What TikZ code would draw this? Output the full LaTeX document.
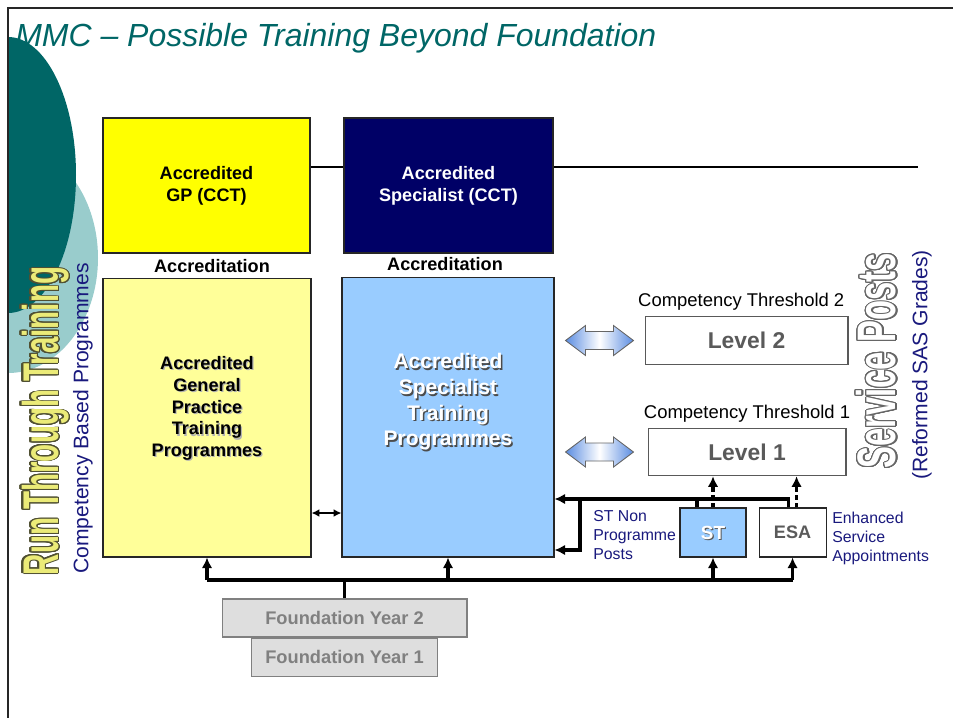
\documentclass[tikz,border=0pt]{standalone}
\usepackage{fontspec}
\setmainfont{Liberation Sans}
\usepackage{graphicx}
\usepackage{contour}
\usetikzlibrary{arrows.meta,positioning,calc}

\definecolor{mmcteal}{RGB}{0,102,102}
\definecolor{paleteal}{RGB}{153,204,204}
\definecolor{gpyellow}{RGB}{255,255,0}
\definecolor{gplight}{RGB}{255,255,153}
\definecolor{stnavy}{RGB}{0,0,102}
\definecolor{stlight}{RGB}{153,204,255}
\definecolor{labelblue}{RGB}{25,25,125}
\definecolor{fatblue}{RGB}{90,140,225}
\definecolor{levelgrey}{RGB}{90,90,90}
\definecolor{fygrey}{RGB}{222,222,222}
\definecolor{fytext}{RGB}{128,128,128}
\definecolor{rtfill}{RGB}{235,235,120}
\definecolor{rtedge}{RGB}{80,80,50}

\contourlength{0.5pt}
\contournumber{24}

\tikzset{
  box/.style={draw=black!85, line width=0.6pt, align=center, inner sep=2pt,
              font=\bfseries\fontsize{10.3}{12.4}\selectfont},
  cctgp/.style={box, fill=gpyellow, minimum width=4.14cm, minimum height=2.7cm},
  cctsp/.style={box, fill=stnavy, text=white, minimum width=4.18cm, minimum height=2.7cm},
  progbox/.style={box, minimum height=5.6cm},
  progtext/.style={box, draw=none, font=\bfseries\fontsize{12}{14.6}\selectfont},
  level/.style={draw=black!65, line width=0.6pt, fill=white, minimum height=0.95cm,
                font=\bfseries\fontsize{13}{15}\selectfont, text=levelgrey},
  post/.style={box, minimum width=1.32cm, minimum height=0.98cm},
  posttext/.style={font=\bfseries\fontsize{10.8}{12}\selectfont, inner sep=0pt},
  fyear/.style={draw=black!50, line width=0.6pt, fill=fygrey, text=fytext,
                minimum height=0.76cm, font=\bfseries\fontsize{10.4}{12}\selectfont},
  accr/.style={font=\bfseries\fontsize{10.3}{12}\selectfont, inner sep=0pt},
  thresh/.style={font=\fontsize{10.5}{12}\selectfont, inner sep=1pt},
  note/.style={text=labelblue, align=left, anchor=north west, inner sep=0pt,
               font=\fontsize{9}{10.8}\selectfont},
  side/.style={rotate=90, text=labelblue, inner sep=0pt, font=\fontsize{12}{14}\selectfont},
  line/.style={line width=1.8pt},
  arrow/.style={line, -{Latex[length=6pt,width=6pt]}},
  dotarrow/.style={arrow, dashed, dash pattern=on 2.5pt off 2pt},
  biarrow/.style={line width=1.3pt, {Latex[length=4.5pt,width=4.5pt]}-{Latex[length=4.5pt,width=4.5pt]}},
  fatarrow/.style={draw=black!60, line width=0.5pt, left color=fatblue,
                   right color=fatblue, middle color=white}
}

\begin{document}
\begin{tikzpicture}[x=0.02cm, y=-0.02cm]
  \useasboundingbox (0,0) rectangle (953,718);

  % slide decoration
  \begin{scope}
    \clip (8,8) rectangle (300,718);
    \fill[paleteal] (8,258) ellipse [x radius=90, y radius=115];
    \fill[mmcteal] (8,175) ellipse [x radius=68, y radius=138];
  \end{scope}
  \draw[line width=1.2pt, black!85] (953,8) -- (8,8) -- (8,718);

  \node[anchor=base west, text=mmcteal, inner sep=0pt,
        font=\itshape\fontsize{18.2}{22}\selectfont] (title) at (15,46)
        {MMC – Possible Training Beyond Foundation};

  % accredited end points
  \node[cctgp] (gpc) at (206.5,185.5) {Accredited\\GP (CCT)};
  \coordinate (rule) at (918,167);
  \draw[line width=0.8pt] (gpc.east |- rule) -- (rule);
  \node[cctsp] (spc) at (448.5,185.5) {Accredited\\Specialist (CCT)};

  % training programmes
  \node[progbox, fill=gplight, minimum width=4.16cm, minimum height=5.58cm] (gpt) at (207,417.5) {};
  \node[progbox, fill=stlight, minimum width=4.24cm] (spt) at (448,417) {};
  \node[accr] (gpa) at (212,266) {Accreditation};
  \node[accr] (spa) at (445,264.5) {Accreditation};

  \node[box, draw=none, text=black!30] (gpts) at ($(gpt)+(1.2,-7.8)$)
    {Accredited\\General\\Practice\\Training\\Programmes};
  \node[box, draw=none] (gptx) at ($(gpt)+(0,-9)$)
    {Accredited\\General\\Practice\\Training\\Programmes};
  \node[progtext, text=black!70] (spts) at ($(spt)+(1.5,-13.5)$)
    {Accredited\\Specialist\\Training\\Programmes};
  \node[progtext, text=white] (sptx) at ($(spt)+(0,-15)$)
    {Accredited\\Specialist\\Training\\Programmes};

  % service grades
  \node[level, minimum width=4.06cm] (l2) at (746.5,340.5) {Level 2};
  \node[level, minimum width=3.96cm] (l1) at (747,452) {Level 1};
  \node[thresh, above=2pt of l2, xshift=-3pt] (t2) {Competency Threshold 2};
  \node[thresh, above=2pt of l1] (t1) {Competency Threshold 1};

  \foreach \lv in {l2,l1}
    \draw[fatarrow, shift={($(spt.east |- \lv)+(45,0)$)}]
      (-34,0) -- (-14,-15) -- (-14,-9) -- (14,-9) -- (14,-15) -- (34,0)
      -- (14,15) -- (14,9) -- (-14,9) -- (-14,15) -- cycle;

  \node[post, fill=stlight] (st) at (713,532.5) {};
  \node[posttext, text=black!65] (sts) at ($(st)+(1.2,1.2)$) {ST};
  \node[posttext, text=white] (stx) at (st) {ST};
  \node[post, fill=white, text=levelgrey, minimum width=1.34cm, right=0.24cm of st] (esa) {ESA};

  \node[note] (stn) at (593,510) {ST Non\\Programme\\Posts};
  \node[note] (esan) at (832,512) {Enhanced\\Service\\Appointments};

  % foundation years
  \node[fyear, minimum width=4.9cm] (fy2) at (344.5,618) {Foundation Year 2};
  \node[fyear, minimum width=3.72cm, below=0pt of fy2] (fy1) {Foundation Year 1};

  % side titles
  \node[rotate=90, text=rtfill, inner sep=0pt,
        font=\bfseries\fontsize{16.8}{20}\selectfont] (rtt) at (46,421)
        {\scalebox{1}[1.7]{\contour{rtedge}{Run Through Training}}};
  \node[side] (cbp) at (83,418.5) {Competency Based Programmes};
  \node[rotate=90, text=white, inner sep=0pt,
        font=\bfseries\fontsize{18.7}{22}\selectfont] (svp) at (877,361)
        {\scalebox{1}[1.65]{\contour{black!60}{Service Posts}}};
  \node[side] (sas) at (922,365) {(Reformed SAS Grades)};

  % links
  \coordinate (link) at (327,513);
  \draw[biarrow] (gpt.east |- link) -- (spt.west |- link);

  \coordinate (bus) at (344,580);
  \draw[line] (fy2.north) -- (fy2.north |- bus);
  \draw[line] (gpt.south |- bus) -- (esa.south |- bus);
  \foreach \n in {gpt,spt,st,esa}
    \draw[arrow] (\n.south |- bus) -- (\n.south);

  \coordinate (ret) at (580,499);
  \coordinate (ret2) at (580,550);
  \coordinate (stj) at ($(st.north)+(-16,0)$);
  \coordinate (esaj) at ($(esa.north)+(-4,0)$);
  \draw[arrow] (esaj) |- (spt.east |- ret);
  \draw[line] (stj) -- (stj |- ret);
  \draw[arrow] (ret) -- (ret2) -- (spt.east |- ret2);

  \coordinate (esad) at ($(esa.north)+(4,0)$);
  \draw[dotarrow] (st.north) -- (st.north |- l1.south);
  \draw[dotarrow] (esad) -- (esad |- l1.south);
\end{tikzpicture}
\end{document}
